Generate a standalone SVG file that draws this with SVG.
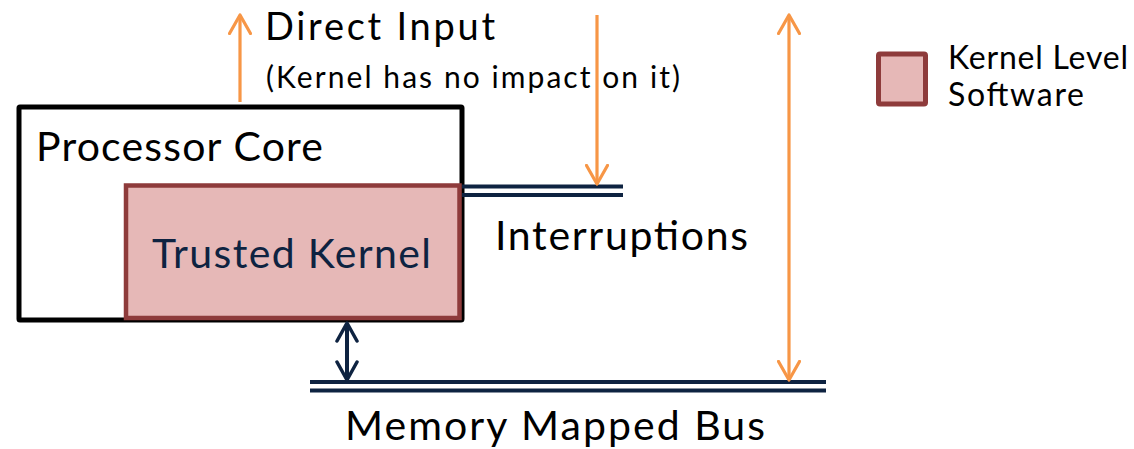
<svg xmlns="http://www.w3.org/2000/svg" width="1134" height="449" viewBox="0 0 1134 449">
<style>
text{font-family:Lato,"Liberation Sans",sans-serif;fill:#000}
.or{stroke:#F79646;stroke-width:3.2;fill:none}
.nv{stroke:#0E2341;stroke-width:4;fill:none}
.kern{fill:#E6B8B7;stroke:#8E3B3B}
</style>
<defs>
<marker id="ao" viewBox="0 0 22 24" refX="20" refY="12" markerWidth="22" markerHeight="24" markerUnits="userSpaceOnUse" orient="auto-start-reverse">
<path d="M1.5,1.5 L20,12 L1.5,22.5" fill="none" stroke="#F79646" stroke-width="3.2" stroke-linecap="round" stroke-linejoin="round"/>
</marker>
<marker id="an" viewBox="0 0 22 24" refX="20" refY="12" markerWidth="22" markerHeight="24" markerUnits="userSpaceOnUse" orient="auto-start-reverse">
<path d="M2,2 L20,12 L2,22" fill="none" stroke="#0E2341" stroke-width="3.5" stroke-linecap="round" stroke-linejoin="round"/>
</marker>
</defs>
<g id="processor-core">
<rect x="19" y="107" width="443" height="213" fill="#fff" stroke="#000" stroke-width="5" rx="1"/>
<text x="36" y="161" font-size="41" textLength="287">Processor Core</text>
</g>
<g id="trusted-kernel">
<rect class="kern" x="126" y="185.5" width="333.5" height="132.5" stroke-width="4.5"/>
<text x="152" y="268" font-size="41" textLength="279" style="fill:#0E2341">Trusted Kernel</text>
</g>
<g id="interruptions">
<line class="nv" x1="462" y1="186.5" x2="623" y2="186.5"/>
<line class="nv" x1="462" y1="195" x2="623" y2="195"/>
<text x="495" y="250" font-size="41" textLength="253">Interruptions</text>
</g>
<g id="memory-bus">
<line class="nv" x1="310" y1="382" x2="826" y2="382"/>
<line class="nv" x1="310" y1="390.5" x2="826" y2="390.5"/>
<text x="345" y="440" font-size="41" textLength="420">Memory Mapped Bus</text>
</g>
<g id="direct-input">
<text x="265" y="40" font-size="38" textLength="230">Direct Input</text>
<text x="266" y="88" font-size="30" textLength="414">(Kernel has no impact on it)</text>
</g>
<g id="legend">
<rect class="kern" x="878.5" y="54" width="47" height="50" stroke-width="5" rx="1.5"/>
<text x="948" y="69" font-size="32" textLength="180">Kernel Level</text>
<text x="948" y="106" font-size="32" textLength="136">Software</text>
</g>
<g id="connectors">
<line class="or" x1="240" y1="102" x2="240" y2="15" marker-end="url(#ao)"/>
<line class="or" x1="597" y1="15" x2="597" y2="184" marker-end="url(#ao)"/>
<line class="or" x1="789" y1="15" x2="789" y2="380" marker-start="url(#ao)" marker-end="url(#ao)"/>
<line class="nv" x1="347" y1="323" x2="347" y2="380" stroke-width="3.5" marker-start="url(#an)" marker-end="url(#an)"/>
</g>
</svg>
